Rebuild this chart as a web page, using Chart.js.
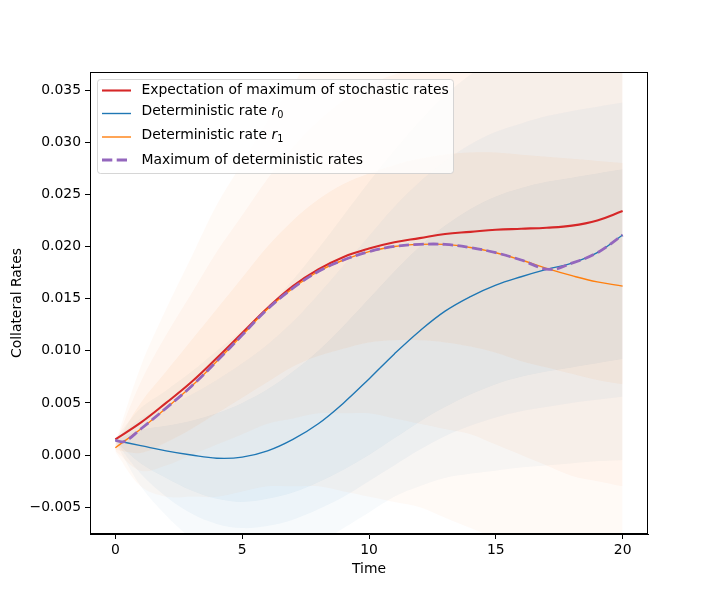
<!DOCTYPE html>
<html>
<head>
<meta charset="utf-8">
<script src="https://cdn.jsdelivr.net/npm/chart.js@4/dist/chart.umd.min.js"></script>
<style>
html,body{margin:0;padding:0;background:#fff;}
#c{display:block;}
</style>
</head>
<body>
<canvas id="c" width="720" height="600"></canvas>
<script>
// ---- data ----
const tGrid = [0,1,2,3,4,5,6,7,8,9,10,11,12,13,14,15,16,17,18,19,20];
const expMaxStoch = [0.0015,0.0031,0.0050,0.0070,0.0093,0.0117,0.0141,0.0162,0.0178,0.0190,0.0198,0.0204,0.0208,0.0212,0.0214,0.0216,0.0217,0.0218,0.0220,0.0225,0.0234];
const rate0 = [0.0014,0.0009,0.0004,0.0000,-0.0003,-0.0002,0.0004,0.0015,0.0030,0.0050,0.0073,0.0097,0.0119,0.0138,0.0152,0.0163,0.0171,0.0178,0.0184,0.0194,0.0211];
const rate1 = [0.0007,0.0025,0.0045,0.0066,0.0090,0.0115,0.0140,0.0160,0.0176,0.0187,0.0195,0.0200,0.0202,0.0202,0.0199,0.0194,0.0187,0.0179,0.0172,0.0166,0.0162];
const maxDetT = [0,0.35,1,2,3,4,5,6,7,8,9,10,11,12,13,14,15,16,17.1,18,19,20];
const maxDetV = [0.0014,0.0013,0.0025,0.0045,0.0066,0.0090,0.0115,0.0140,0.0160,0.0176,0.0187,0.0195,0.0200,0.0202,0.0202,0.0199,0.0194,0.0187,0.0178,0.0184,0.0194,0.0211];
// envelopes of the faint simulated paths (three density levels per rate)
const r1OuterHi = [0.0012,0.0085,0.0140,0.0190,0.0240,0.0280,0.0320,0.0355,0.0390,0.0400,0.0400,0.0400,0.0400,0.0400,0.0400,0.0400,0.0400,0.0400,0.0400,0.0400,0.0400];
const r1OuterLo = [0.0003,-0.0030,-0.0040,-0.0040,-0.0040,-0.0035,-0.0030,-0.0030,-0.0030,-0.0035,-0.0040,-0.0045,-0.0050,-0.0060,-0.0070,-0.0080,-0.0090,-0.0100,-0.0100,-0.0100,-0.0100];
const r1MidHi = [0.0011,0.0070,0.0115,0.0155,0.0195,0.0230,0.0265,0.0295,0.0320,0.0340,0.0355,0.0365,0.0370,0.0375,0.0375,0.0375,0.0375,0.0375,0.0375,0.0375,0.0375];
const r1MidLo = [0.0004,-0.0015,-0.0010,0.0000,0.0010,0.0020,0.0030,0.0035,0.0040,0.0040,0.0040,0.0035,0.0030,0.0025,0.0020,0.0010,0.0000,-0.0010,-0.0020,-0.0025,-0.0030];
const r1CoreHi = [0.0010,0.0050,0.0080,0.0110,0.0140,0.0170,0.0200,0.0225,0.0245,0.0260,0.0270,0.0278,0.0284,0.0288,0.0290,0.0290,0.0288,0.0286,0.0284,0.0282,0.0280];
const r1CoreLo = [0.0005,0.0002,0.0012,0.0025,0.0040,0.0055,0.0070,0.0085,0.0095,0.0102,0.0108,0.0110,0.0110,0.0108,0.0104,0.0098,0.0090,0.0084,0.0078,0.0072,0.0068];
const r0OuterHi = [0.0016,0.0045,0.0062,0.0080,0.0100,0.0120,0.0142,0.0168,0.0198,0.0230,0.0262,0.0292,0.0320,0.0345,0.0365,0.0380,0.0390,0.0395,0.0395,0.0395,0.0395];
const r0OuterLo = [0.0012,-0.0030,-0.0058,-0.0080,-0.0095,-0.0100,-0.0100,-0.0095,-0.0085,-0.0070,-0.0055,-0.0040,-0.0030,-0.0022,-0.0018,-0.0015,-0.0012,-0.0010,-0.0008,-0.0006,-0.0005];
const r0MidHi = [0.0015,0.0035,0.0046,0.0058,0.0072,0.0088,0.0106,0.0128,0.0154,0.0182,0.0210,0.0238,0.0262,0.0282,0.0298,0.0310,0.0318,0.0325,0.0330,0.0334,0.0338];
const r0MidLo = [0.0013,-0.0018,-0.0040,-0.0056,-0.0066,-0.0070,-0.0068,-0.0062,-0.0052,-0.0040,-0.0025,-0.0010,0.0005,0.0018,0.0028,0.0036,0.0042,0.0046,0.0050,0.0053,0.0056];
const r0CoreHi = [0.0014,0.0024,0.0028,0.0033,0.0040,0.0050,0.0063,0.0080,0.0100,0.0124,0.0150,0.0176,0.0200,0.0220,0.0236,0.0248,0.0256,0.0262,0.0266,0.0270,0.0274];
const r0CoreLo = [0.0013,-0.0008,-0.0022,-0.0034,-0.0042,-0.0045,-0.0042,-0.0036,-0.0026,-0.0014,0.0000,0.0016,0.0032,0.0046,0.0058,0.0068,0.0075,0.0080,0.0084,0.0088,0.0092];
const xTicks = [0,5,10,15,20];
const yTicks = [-0.005,0.000,0.005,0.010,0.015,0.020,0.025,0.030,0.035];
const legendLabels = [
  {main:'Expectation of maximum of stochastic rates'},
  {main:'Deterministic rate ', it:'r', sub:'0'},
  {main:'Deterministic rate ', it:'r', sub:'1'},
  {main:'Maximum of deterministic rates'}
];

const C_RED='#d62728', C_BLUE='#1f77b4', C_ORANGE='#ff7f0e', C_PURPLE='#9467bd';
const pts = (xs, ys) => xs.map((x,i)=>({x:x, y:ys[i]}));

function band(hi, lo, color, ordr, idx){
  return [
    {data:pts(tGrid,hi), borderWidth:0, pointRadius:0, tension:0.35, fill:idx+1, backgroundColor:color, order:ordr},
    {data:pts(tGrid,lo), borderWidth:0, pointRadius:0, tension:0.35, fill:false, order:ordr}
  ];
}

const lineDs = [
  {label:'max', data:pts(maxDetT,maxDetV), borderColor:C_PURPLE, borderWidth:2.8, borderDash:[10.3,4.4], pointRadius:0, tension:0.4, fill:false, order:1},
  {label:'r1', data:pts(tGrid,rate1), borderColor:C_ORANGE, borderWidth:1.4, pointRadius:0, tension:0.4, fill:false, order:2},
  {label:'r0', data:pts(tGrid,rate0), borderColor:C_BLUE, borderWidth:1.4, pointRadius:0, tension:0.4, fill:false, order:3},
  {label:'exp', data:pts(tGrid,expMaxStoch), borderColor:C_RED, borderWidth:2.1, pointRadius:0, tension:0.4, fill:false, order:4}
];
const datasets = lineDs.slice();
datasets.push(...band(r1CoreHi, r1CoreLo, 'rgba(255,127,14,0.06)', 5, datasets.length));
datasets.push(...band(r1MidHi, r1MidLo, 'rgba(255,127,14,0.045)', 6, datasets.length));
datasets.push(...band(r1OuterHi, r1OuterLo, 'rgba(255,127,14,0.035)', 7, datasets.length));
datasets.push(...band(r0CoreHi, r0CoreLo, 'rgba(31,119,180,0.055)', 8, datasets.length));
datasets.push(...band(r0MidHi, r0MidLo, 'rgba(31,119,180,0.045)', 9, datasets.length));
datasets.push(...band(r0OuterHi, r0OuterLo, 'rgba(31,119,180,0.035)', 10, datasets.length));

const FONT = 'DejaVu Sans';
const FS = 13.9;

const deco = {
  id:'deco',
  afterDraw(chart){
    const ctx = chart.ctx, a = chart.chartArea;
    ctx.save();
    ctx.strokeStyle='#000'; ctx.lineWidth=1;
    ctx.strokeRect(Math.round(a.left)+0.5, Math.round(a.top)+0.5, Math.round(a.right-a.left)-1, Math.round(a.bottom-a.top)-1);
    ctx.fillStyle='#000';
    ctx.font = FS+'px "'+FONT+'"';
    ctx.textAlign='center'; ctx.textBaseline='middle';
    ctx.fillText('Time', (a.left+a.right)/2, 569);
    ctx.save();
    ctx.translate(17, (a.top+a.bottom)/2);
    ctx.rotate(-Math.PI/2);
    ctx.fillText('Collateral Rates', 0, 0);
    ctx.restore();
    const bx=97.5, by=79.5, bw=356, bh=94, r=3;
    ctx.beginPath();
    ctx.moveTo(bx+r,by); ctx.lineTo(bx+bw-r,by); ctx.arcTo(bx+bw,by,bx+bw,by+r,r);
    ctx.lineTo(bx+bw,by+bh-r); ctx.arcTo(bx+bw,by+bh,bx+bw-r,by+bh,r);
    ctx.lineTo(bx+r,by+bh); ctx.arcTo(bx,by+bh,bx,by+bh-r,r);
    ctx.lineTo(bx,by+r); ctx.arcTo(bx,by,bx+r,by,r); ctx.closePath();
    ctx.fillStyle='rgba(255,255,255,0.8)'; ctx.fill();
    ctx.strokeStyle='rgba(204,204,204,0.8)'; ctx.lineWidth=1; ctx.stroke();
    const rows=[90.5,113.5,137,160];
    const styles=[lineDs[3], lineDs[2], lineDs[1], lineDs[0]];
    rows.forEach((ry,i)=>{
      const s=styles[i];
      ctx.beginPath();
      ctx.strokeStyle=s.borderColor; ctx.lineWidth=s.borderWidth;
      ctx.setLineDash(s.borderDash||[]);
      ctx.moveTo(102,ry); ctx.lineTo(131,ry); ctx.stroke();
      ctx.setLineDash([]);
      const L=legendLabels[i];
      ctx.fillStyle='#000'; ctx.textAlign='left'; ctx.textBaseline='middle';
      ctx.font = FS+'px "'+FONT+'"';
      let x=141.5;
      const ty = L.sub ? ry-2 : ry;
      ctx.fillText(L.main, x, ty); x+=ctx.measureText(L.main).width;
      if(L.it){
        ctx.font='oblique '+FS+'px "'+FONT+'"';
        ctx.fillText(L.it, x, ty); x+=ctx.measureText(L.it).width;
        ctx.font=(FS*0.7)+'px "'+FONT+'"';
        ctx.fillText(L.sub, x, ty+4);
      }
    });
    ctx.restore();
  }
};

new Chart(document.getElementById('c'), {
  type:'line',
  data:{datasets:datasets},
  options:{
    responsive:false, animation:false, devicePixelRatio:1,
    layout:{padding:{left:0,right:72,top:72,bottom:0}},
    plugins:{legend:{display:false}, tooltip:{enabled:false}},
    elements:{line:{borderCapStyle:'butt'}},
    scales:{
      x:{type:'linear', min:-1, max:21,
        afterFit:s=>{s.height=66;},
        afterBuildTicks:ax=>{ax.ticks=xTicks.map(v=>({value:v}));},
        grid:{drawOnChartArea:false, drawTicks:true, tickLength:5, color:'#000'},
        border:{display:true,color:'#000',width:1},
        ticks:{color:'#000', font:{family:FONT,size:FS}, padding:3, maxRotation:0, callback:v=>String(v)}
      },
      y:{type:'linear', min:-0.00757, max:0.03673,
        afterFit:s=>{s.width=90;},
        afterBuildTicks:ax=>{ax.ticks=yTicks.map(v=>({value:v}));},
        grid:{drawOnChartArea:false, drawTicks:true, tickLength:5, color:'#000'},
        border:{display:true,color:'#000',width:1},
        ticks:{color:'#000', font:{family:FONT,size:FS}, padding:4, callback:v=>v.toFixed(3).replace('-','\u2212')}
      }
    }
  },
  plugins:[deco]
});
</script>
</body>
</html>
